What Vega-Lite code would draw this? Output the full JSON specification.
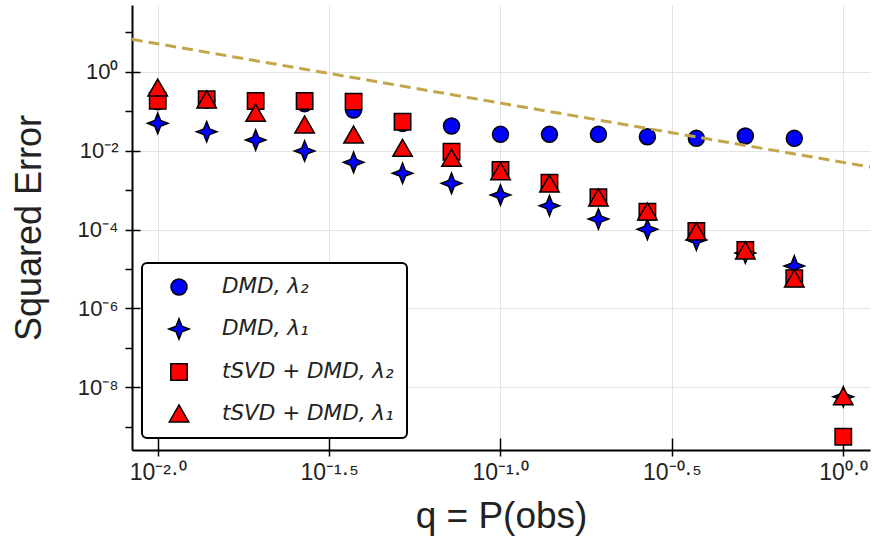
{
  "$schema": "https://vega.github.io/schema/vega-lite/v6.json",
  "width": 738,
  "height": 445,
  "autosize": {"type": "none"},
  "padding": {"left": 132, "top": 5, "right": 4, "bottom": 87},
  "background": "white",
  "config": {"view": {"stroke": null}, "font": "Liberation Sans"},
  "datasets": {
    "pts": [
      {"series": "DMD, λ₂", "q": 0.01, "err": 0.174},
      {"series": "DMD, λ₂", "q": 0.013895, "err": 0.19},
      {"series": "DMD, λ₂", "q": 0.019307, "err": 0.174},
      {"series": "DMD, λ₂", "q": 0.026827, "err": 0.155},
      {"series": "DMD, λ₂", "q": 0.037276, "err": 0.107},
      {"series": "DMD, λ₂", "q": 0.051795, "err": 0.049},
      {"series": "DMD, λ₂", "q": 0.071969, "err": 0.042},
      {"series": "DMD, λ₂", "q": 0.1, "err": 0.0259},
      {"series": "DMD, λ₂", "q": 0.13895, "err": 0.0259},
      {"series": "DMD, λ₂", "q": 0.19307, "err": 0.0259},
      {"series": "DMD, λ₂", "q": 0.26827, "err": 0.0225},
      {"series": "DMD, λ₂", "q": 0.37276, "err": 0.0205},
      {"series": "DMD, λ₂", "q": 0.51795, "err": 0.0234},
      {"series": "DMD, λ₂", "q": 0.71969, "err": 0.0205},
      {"series": "DMD, λ₁", "q": 0.01, "err": 0.0492},
      {"series": "DMD, λ₁", "q": 0.013895, "err": 0.0301},
      {"series": "DMD, λ₁", "q": 0.019307, "err": 0.0186},
      {"series": "DMD, λ₁", "q": 0.026827, "err": 0.00977},
      {"series": "DMD, λ₁", "q": 0.037276, "err": 0.00505},
      {"series": "DMD, λ₁", "q": 0.051795, "err": 0.00266},
      {"series": "DMD, λ₁", "q": 0.071969, "err": 0.00148},
      {"series": "DMD, λ₁", "q": 0.1, "err": 0.00075},
      {"series": "DMD, λ₁", "q": 0.13895, "err": 0.000401},
      {"series": "DMD, λ₁", "q": 0.19307, "err": 0.000185},
      {"series": "DMD, λ₁", "q": 0.26827, "err": 0.000101},
      {"series": "DMD, λ₁", "q": 0.37276, "err": 0.0000542},
      {"series": "DMD, λ₁", "q": 0.51795, "err": 0.0000254},
      {"series": "DMD, λ₁", "q": 0.71969, "err": 0.0000119},
      {"series": "DMD, λ₁", "q": 1.0, "err": 5.75e-9},
      {"series": "tSVD + DMD, λ₂", "q": 0.01, "err": 0.184},
      {"series": "tSVD + DMD, λ₂", "q": 0.013895, "err": 0.2},
      {"series": "tSVD + DMD, λ₂", "q": 0.019307, "err": 0.181},
      {"series": "tSVD + DMD, λ₂", "q": 0.026827, "err": 0.181},
      {"series": "tSVD + DMD, λ₂", "q": 0.037276, "err": 0.174},
      {"series": "tSVD + DMD, λ₂", "q": 0.051795, "err": 0.054},
      {"series": "tSVD + DMD, λ₂", "q": 0.071969, "err": 0.00938},
      {"series": "tSVD + DMD, λ₂", "q": 0.1, "err": 0.00322},
      {"series": "tSVD + DMD, λ₂", "q": 0.13895, "err": 0.00153},
      {"series": "tSVD + DMD, λ₂", "q": 0.19307, "err": 0.000655},
      {"series": "tSVD + DMD, λ₂", "q": 0.26827, "err": 0.000283},
      {"series": "tSVD + DMD, λ₂", "q": 0.37276, "err": 0.0000916},
      {"series": "tSVD + DMD, λ₂", "q": 0.51795, "err": 0.0000302},
      {"series": "tSVD + DMD, λ₂", "q": 0.71969, "err": 0.0000058},
      {"series": "tSVD + DMD, λ₂", "q": 1.0, "err": 5.6e-10},
      {"series": "tSVD + DMD, λ₁", "q": 0.01, "err": 0.386},
      {"series": "tSVD + DMD, λ₁", "q": 0.013895, "err": 0.192},
      {"series": "tSVD + DMD, λ₁", "q": 0.019307, "err": 0.0883},
      {"series": "tSVD + DMD, λ₁", "q": 0.026827, "err": 0.0446},
      {"series": "tSVD + DMD, λ₁", "q": 0.037276, "err": 0.0248},
      {"series": "tSVD + DMD, λ₁", "q": 0.051795, "err": 0.0114},
      {"series": "tSVD + DMD, λ₁", "q": 0.071969, "err": 0.00638},
      {"series": "tSVD + DMD, λ₁", "q": 0.1, "err": 0.00292},
      {"series": "tSVD + DMD, λ₁", "q": 0.13895, "err": 0.00142},
      {"series": "tSVD + DMD, λ₁", "q": 0.19307, "err": 0.00063},
      {"series": "tSVD + DMD, λ₁", "q": 0.26827, "err": 0.000278},
      {"series": "tSVD + DMD, λ₁", "q": 0.37276, "err": 0.000087},
      {"series": "tSVD + DMD, λ₁", "q": 0.51795, "err": 0.0000285},
      {"series": "tSVD + DMD, λ₁", "q": 0.71969, "err": 0.00000556},
      {"series": "tSVD + DMD, λ₁", "q": 1.0, "err": 5.78e-9}
    ],
    "ref": [
      {"q": 0.0084, "err": 6.64},
      {"q": 1.2, "err": 0.00383}
    ]
  },
  "layer": [
    {
      "data": {"name": "pts"},
      "mark": {"type": "point", "filled": true, "opacity": 1, "stroke": "black", "strokeWidth": 1.5, "size": 420},
      "encoding": {
        "x": {
          "field": "q", "type": "quantitative",
          "scale": {"type": "log", "domain": [0.008414, 1.1967], "nice": false},
          "axis": {
            "orient": "bottom",
            "values": [0.01, 0.0316228, 0.1, 0.316228, 1],
            "labelExpr": "datum.value < 0.02 ? '10⁻²·⁰' : datum.value < 0.05 ? '10⁻¹·⁵' : datum.value < 0.2 ? '10⁻¹·⁰' : datum.value < 0.5 ? '10⁻⁰·⁵' : '10⁰·⁰'",
            "grid": false,
            "tickSize": 6, "tickWidth": 1.5, "tickColor": "black",
            "domainColor": "black", "domainWidth": 2,
            "labelFont": "Liberation Sans", "labelFontSize": 23, "labelColor": "#222", "labelPadding": 5,
            "labelFlush": false, "labelOverlap": false,
            "title": "q = P(obs)", "titleFont": "Liberation Sans", "titleFontSize": 37, "titleFontWeight": "normal", "titleColor": "#222", "titlePadding": 14
          }
        },
        "y": {
          "field": "err", "type": "quantitative",
          "scale": {"type": "log", "domain": [2.576e-10, 49.1], "nice": false},
          "axis": {
            "orient": "left",
            "values": [10, 1, 0.1, 0.01, 0.001, 0.0001, 0.00001, 0.000001, 0.0000001, 0.00000001, 0.000000001],
            "labelExpr": "datum.value > 5 ? '' : datum.value > 0.5 ? '10⁰' : datum.value > 0.05 ? '' : datum.value > 0.005 ? '10⁻²' : datum.value > 0.0005 ? '' : datum.value > 0.00005 ? '10⁻⁴' : datum.value > 0.000005 ? '' : datum.value > 0.0000005 ? '10⁻⁶' : datum.value > 0.00000005 ? '' : datum.value > 0.000000005 ? '10⁻⁸' : ''",
            "grid": false,
            "tickSize": 7, "tickWidth": 1.5, "tickColor": "black",
            "domainColor": "black", "domainWidth": 2,
            "labelFont": "Liberation Sans", "labelFontSize": 22, "labelColor": "#222", "labelPadding": 7,
            "labelFlush": false, "labelOverlap": false,
            "title": "Squared Error", "titleFont": "Liberation Sans", "titleFontSize": 36, "titleFontWeight": "normal", "titleColor": "#222", "titlePadding": 29
          }
        },
        "color": {
          "field": "series", "type": "nominal",
          "scale": {
            "domain": ["DMD, λ₂", "DMD, λ₁", "tSVD + DMD, λ₂", "tSVD + DMD, λ₁"],
            "range": ["#0000FF", "#0000FF", "#FF0000", "#FF0000"]
          },
          "legend": {
            "orient": "none", "legendX": 10, "legendY": 258,
            "title": null,
            "padding": 13, "symbolOffset": 13,
            "strokeColor": "black", "cornerRadius": 5, "fillColor": "white",
            "labelFont": "DejaVu Sans", "labelFontSize": 21.5, "labelFontStyle": "italic", "labelColor": "#222",
            "labelOffset": 32, "labelLimit": 400,
            "symbolSize": 420, "symbolStrokeColor": "black", "symbolStrokeWidth": 1.5, "symbolOpacity": 1,
            "rowPadding": 17,
            "encode": {"legend": {"update": {"strokeWidth": {"value": 2}}}}
          }
        },
        "shape": {
          "field": "series", "type": "nominal",
          "scale": {
            "domain": ["DMD, λ₂", "DMD, λ₁", "tSVD + DMD, λ₂", "tSVD + DMD, λ₁"],
            "range": [
              "M0.78,0A0.78,0.78,0,1,1,-0.78,0A0.78,0.78,0,1,1,0.78,0Z",
              "M0,-1L0.28,-0.28L1,0L0.28,0.28L0,1L-0.28,0.28L-1,0L-0.28,-0.28Z",
              "M-0.8,-0.8L0.8,-0.8L0.8,0.8L-0.8,0.8Z",
              "M0,-0.88L0.95,0.78L-0.95,0.78Z"
            ]
          },
          "legend": {
            "orient": "none", "legendX": 10, "legendY": 258,
            "title": null,
            "padding": 13, "symbolOffset": 13,
            "strokeColor": "black", "cornerRadius": 5, "fillColor": "white",
            "labelFont": "DejaVu Sans", "labelFontSize": 21.5, "labelFontStyle": "italic", "labelColor": "#222",
            "labelOffset": 32, "labelLimit": 400,
            "symbolSize": 420, "symbolStrokeColor": "black", "symbolStrokeWidth": 1.5, "symbolOpacity": 1,
            "rowPadding": 17,
            "encode": {"legend": {"update": {"strokeWidth": {"value": 2}}}}
          }
        }
      }
    },
    {
      "data": {"name": "ref"},
      "mark": {"type": "line", "clip": true, "color": "#C4A64A", "strokeWidth": 3, "strokeDash": [11, 6]},
      "encoding": {
        "x": {
          "field": "q", "type": "quantitative",
          "axis": {
            "orient": "bottom",
            "values": [0.01, 0.0316228, 0.1, 0.316228, 1],
            "grid": true, "gridColor": "#e3e3e3", "gridWidth": 1,
            "tickSize": -12, "tickWidth": 1.5, "tickColor": "black",
            "domain": false, "labels": false, "title": null
          }
        },
        "y": {
          "field": "err", "type": "quantitative",
          "axis": {
            "orient": "left",
            "values": [1, 0.01, 0.0001, 0.000001, 0.00000001],
            "grid": true, "gridColor": "#e3e3e3", "gridWidth": 1,
            "tickSize": -8, "tickWidth": 1.5, "tickColor": "black",
            "domain": false, "labels": false, "title": null
          }
        }
      }
    }
  ],
  "resolve": {"axis": {"x": "independent", "y": "independent"}}
}
